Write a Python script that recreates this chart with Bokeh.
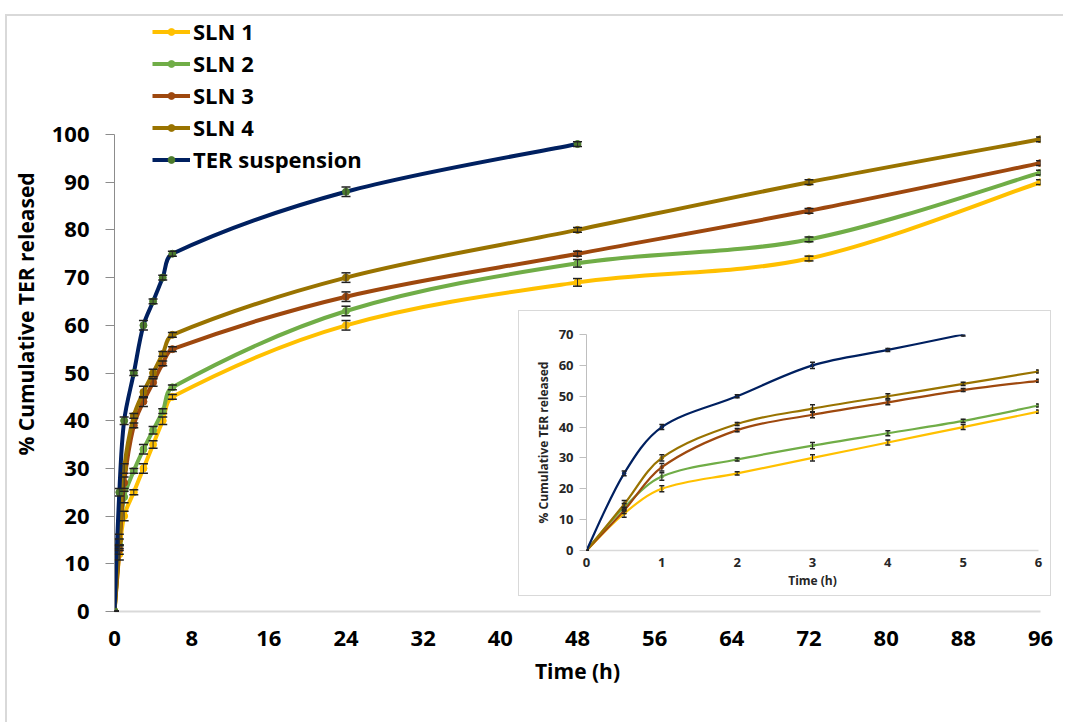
import numpy as np
from bokeh.plotting import figure
from bokeh.models import (ColumnDataSource, Legend, LegendItem, Whisker, TeeHead,
                          FixedTicker, Div)
from bokeh.embed import file_html
from bokeh.resources import INLINE

# ---------------- data ----------------
time_h = [0, 0.5, 1, 2, 3, 4, 5, 6, 24, 48, 72, 96]
sln1 = [0, 12, 20, 25, 30, 35, 40, 45, 60, 69, 74, 90]
sln2 = [0, 14, 24, 29.5, 34, 38, 42, 47, 63, 73, 78, 92]
sln3 = [0, 13, 27, 39, 44, 48, 52, 55, 66, 75, 84, 94]
sln4 = [0, 15, 30, 41, 46, 50, 54, 58, 70, 80, 90, 99]
ter_time = [0, 0.5, 1, 2, 3, 4, 5, 6, 24, 48]
ter = [0, 25, 40, 50, 60, 65, 70, 75, 88, 98]

sln1_err = [0, 1.2, 1.0, 0.5, 1.0, 0.8, 0.8, 0.5, 1.0, 0.8, 0.5, 0.5]
sln2_err = [0, 1.2, 1.2, 0.5, 1.0, 0.8, 0.5, 0.5, 1.0, 0.8, 0.5, 0.5]
sln3_err = [0, 1.0, 1.2, 0.5, 1.0, 0.8, 0.5, 0.5, 1.0, 0.5, 0.5, 0.5]
sln4_err = [0, 1.2, 1.0, 0.5, 1.2, 0.8, 0.5, 0.5, 1.0, 0.5, 0.5, 0.5]
ter_err = [0, 0.8, 0.8, 0.5, 1.0, 0.5, 0.5, 0.5, 1.0, 0.5]

series_names = ["SLN 1", "SLN 2", "SLN 3", "SLN 4", "TER suspension"]
x_ticks = [0, 8, 16, 24, 32, 40, 48, 56, 64, 72, 80, 88, 96]
y_ticks = [0, 10, 20, 30, 40, 50, 60, 70, 80, 90, 100]
inset_x_ticks = [0, 1, 2, 3, 4, 5, 6]
inset_y_ticks = [0, 10, 20, 30, 40, 50, 60, 70]
inset_max_time = 6
inset_ter_max_time = 5

# ---------------- styles / geometry ----------------
line_colors = ["#FFC000", "#70AD47", "#9E480E", "#997300", "#002060"]
marker_colors = ["#FFC000", "#70AD47", "#9E480E", "#997300", "#4B7A2C"]
FONT = "Open Sans"

# main plot: figure box & frame (page pixels)
P_LEFT, P_TOP, P_W, P_H = 8, 14, 1058, 708
F_LEFT, F_RIGHT, F_TOP, F_Y0, F_Y100 = 114, 1040, 16, 611, 134
Y_AXIS_MAX = 100
y_end = Y_AXIS_MAX * (F_Y0 - F_TOP) / (F_Y0 - F_Y100)
# inset: box & frame (page pixels)
I_LEFT, I_TOP, I_W, I_H = 519, 311, 533, 286
IF_LEFT, IF_RIGHT, IF_TOP, IF_BOTTOM = 586, 1038, 334, 550


def smooth_source(xs, ys, sx, sy):
    """Excel-like smoothed line: cubic Bezier segments through the data points
    (Catmull-Rom tangents weighted by segment lengths in screen space)."""
    x = np.asarray(xs, float) * sx
    y = np.asarray(ys, float) * sy
    n = len(x)
    P = np.stack([x, y], axis=1)
    d = np.hypot(np.diff(x), np.diff(y))
    T = np.zeros_like(P)
    T[1:-1] = P[2:] - P[:-2]
    T[0] = P[1] - P[0]
    T[-1] = P[-1] - P[-2]
    c0 = np.zeros((n - 1, 2))
    c1 = np.zeros((n - 1, 2))
    for i in range(n - 1):
        w0 = 0.5 if i == 0 else d[i] / (d[i - 1] + d[i])
        w1 = 0.5 if i + 1 == n - 1 else d[i] / (d[i] + d[i + 1])
        c0[i] = P[i] + T[i] * w0 / 3.0
        c1[i] = P[i + 1] - T[i + 1] * w1 / 3.0
    return ColumnDataSource(dict(
        x0=x[:-1] / sx, y0=y[:-1] / sy, x1=x[1:] / sx, y1=y[1:] / sy,
        cx0=c0[:, 0] / sx, cy0=c0[:, 1] / sy, cx1=c1[:, 0] / sx, cy1=c1[:, 1] / sy))


def draw_series(fig, xs, ys, errs, lc, mc, lw, ms, head, sx, sy):
    bez = fig.bezier(x0="x0", y0="y0", x1="x1", y1="y1", cx0="cx0", cy0="cy0",
                     cx1="cx1", cy1="cy1", source=smooth_source(xs, ys, sx, sy),
                     line_color=lc, line_width=lw)
    src = ColumnDataSource(dict(x=list(xs), y=list(ys),
                                lo=[a - b for a, b in zip(ys, errs)],
                                hi=[a + b for a, b in zip(ys, errs)]))
    sc = fig.scatter(x="x", y="y", source=src, size=ms, fill_color=mc,
                     line_color=mc)
    w = Whisker(source=src, base="x", lower="lo", upper="hi",
                line_color="#303030", line_width=1, level="overlay",
                upper_head=TeeHead(size=head, line_color="#202020", line_width=1.5),
                lower_head=TeeHead(size=head, line_color="#202020", line_width=1.5))
    fig.add_layout(w)
    return bez, sc


all_x = [time_h, time_h, time_h, time_h, ter_time]
all_y = [sln1, sln2, sln3, sln4, ter]
all_e = [sln1_err, sln2_err, sln3_err, sln4_err, ter_err]

# ---------------- main chart ----------------
p = figure(width=P_W, height=P_H, x_range=(0, 96), y_range=(0, y_end),
           output_backend="svg", toolbar_location=None,
           min_border_left=F_LEFT - P_LEFT, min_border_right=P_LEFT + P_W - F_RIGHT,
           min_border_top=F_TOP - P_TOP, min_border_bottom=P_TOP + P_H - F_Y0)
p.styles = {"position": "absolute", "left": f"{P_LEFT}px", "top": f"{P_TOP}px"}
p.outline_line_color = None
p.xgrid.grid_line_color = None
p.ygrid.grid_line_color = None
p.background_fill_color = "white"
p.border_fill_color = "white"

msx = (F_RIGHT - F_LEFT) / 96.0
msy = (F_Y0 - F_Y100) / 100.0
items = []
for k in range(5):
    bez, sc = draw_series(p, all_x[k], all_y[k], all_e[k], line_colors[k],
                          marker_colors[k], 4, 7, 9, msx, msy)
    items.append(LegendItem(label=series_names[k], renderers=[bez, sc]))

p.xaxis.ticker = FixedTicker(ticks=x_ticks)
p.yaxis.ticker = FixedTicker(ticks=y_ticks)
p.yaxis.bounds = (0, Y_AXIS_MAX)
p.xaxis.axis_label = "Time (h)"
p.yaxis.axis_label = "% Cumulative TER released"
for ax in (p.xaxis, p.yaxis):
    ax.major_label_text_font = FONT
    ax.major_label_text_font_style = "bold"
    ax.major_label_text_font_size = "22px"
    ax.major_label_text_color = "black"
    ax.axis_label_text_font = FONT
    ax.axis_label_text_font_style = "bold"
    ax.axis_label_text_font_size = "21px"
    ax.axis_label_text_color = "black"
    ax.minor_tick_line_color = None
    ax.major_tick_in = 0
p.xaxis.axis_line_color = "#d9d9d9"
p.xaxis.axis_line_width = 2
p.xaxis.major_tick_out = 0
p.xaxis.major_label_standoff = 19
p.xaxis.axis_label_standoff = 8
p.yaxis.axis_line_color = "#8c8c8c"
p.yaxis.major_tick_line_color = "#8c8c8c"
p.yaxis.major_tick_out = 9
p.yaxis.major_label_standoff = 16
p.yaxis.axis_label_standoff = 9

legend = Legend(items=items, location=(38, F_Y0 - (F_TOP + 158)), orientation="vertical",
                label_text_font=FONT, label_text_font_style="bold",
                label_text_font_size="22px", label_text_color="black",
                glyph_width=38, glyph_height=17, label_height=30,
                label_standoff=3, spacing=2, padding=0, margin=0,
                border_line_color=None, background_fill_alpha=0)
p.add_layout(legend, "center")

# ---------------- inset ----------------
inset = figure(width=I_W, height=I_H, x_range=(0, 6), y_range=(0, 70),
               output_backend="svg", toolbar_location=None,
               min_border_left=IF_LEFT - I_LEFT, min_border_right=I_LEFT + I_W - IF_RIGHT,
               min_border_top=IF_TOP - I_TOP, min_border_bottom=I_TOP + I_H - IF_BOTTOM)
inset.styles = {"position": "absolute", "left": f"{I_LEFT}px", "top": f"{I_TOP}px",
                "z-index": "5", "background": "white"}
inset.outline_line_color = None
inset.xgrid.grid_line_color = None
inset.ygrid.grid_line_color = None
inset.border_fill_color = "white"

isx = (IF_RIGHT - IF_LEFT) / 6.0
isy = (IF_BOTTOM - IF_TOP) / 70.0
for k in range(5):
    lim = inset_ter_max_time if k == 4 else inset_max_time
    xs = [t for t in all_x[k] if t <= lim]
    n = len(xs)
    draw_series(inset, xs, all_y[k][:n], all_e[k][:n], line_colors[k],
                line_colors[k] if k == 4 else marker_colors[k], 2.2, 3.5, 5, isx, isy)

inset.xaxis.ticker = FixedTicker(ticks=inset_x_ticks)
inset.yaxis.ticker = FixedTicker(ticks=inset_y_ticks)
inset.xaxis.axis_label = "Time (h)"
inset.yaxis.axis_label = "% Cumulative TER released"
for ax in (inset.xaxis, inset.yaxis):
    ax.major_label_text_font = FONT
    ax.major_label_text_font_style = "bold"
    ax.major_label_text_font_size = "13px"
    ax.major_label_text_color = "#262626"
    ax.axis_label_text_font = FONT
    ax.axis_label_text_font_style = "bold"
    ax.axis_label_text_font_size = "12px"
    ax.axis_label_text_color = "#262626"
    ax.minor_tick_line_color = None
    ax.major_tick_in = 0
inset.xaxis.axis_line_color = "#d9d9d9"
inset.xaxis.axis_line_width = 1.5
inset.xaxis.major_tick_out = 0
inset.xaxis.major_label_standoff = 7
inset.xaxis.axis_label_standoff = 2
inset.yaxis.axis_line_color = "#bfbfbf"
inset.yaxis.major_tick_line_color = "#bfbfbf"
inset.yaxis.major_tick_out = 7
inset.yaxis.major_label_standoff = 6
inset.yaxis.axis_label_standoff = 4

# light-grey borders: outer chart area (top/left) and inset box
outer_border = Div(text="", width=P_W, height=P_H, margin=0,
                   styles={"position": "absolute", "left": f"{P_LEFT - 3}px",
                           "top": f"{P_TOP}px", "z-index": "3",
                           "pointer-events": "none",
                           "border-top": "2px solid #d9d9d9",
                           "border-left": "2px solid #d9d9d9"})
inset_border = Div(text="", width=I_W, height=I_H, margin=0,
                   styles={"position": "absolute", "left": f"{I_LEFT - 1}px",
                           "top": f"{I_TOP - 1}px", "z-index": "6",
                           "pointer-events": "none",
                           "border": "1px solid #d9d9d9"})

open("out.html", "w").write(file_html([p, inset, outer_border, inset_border], INLINE))
